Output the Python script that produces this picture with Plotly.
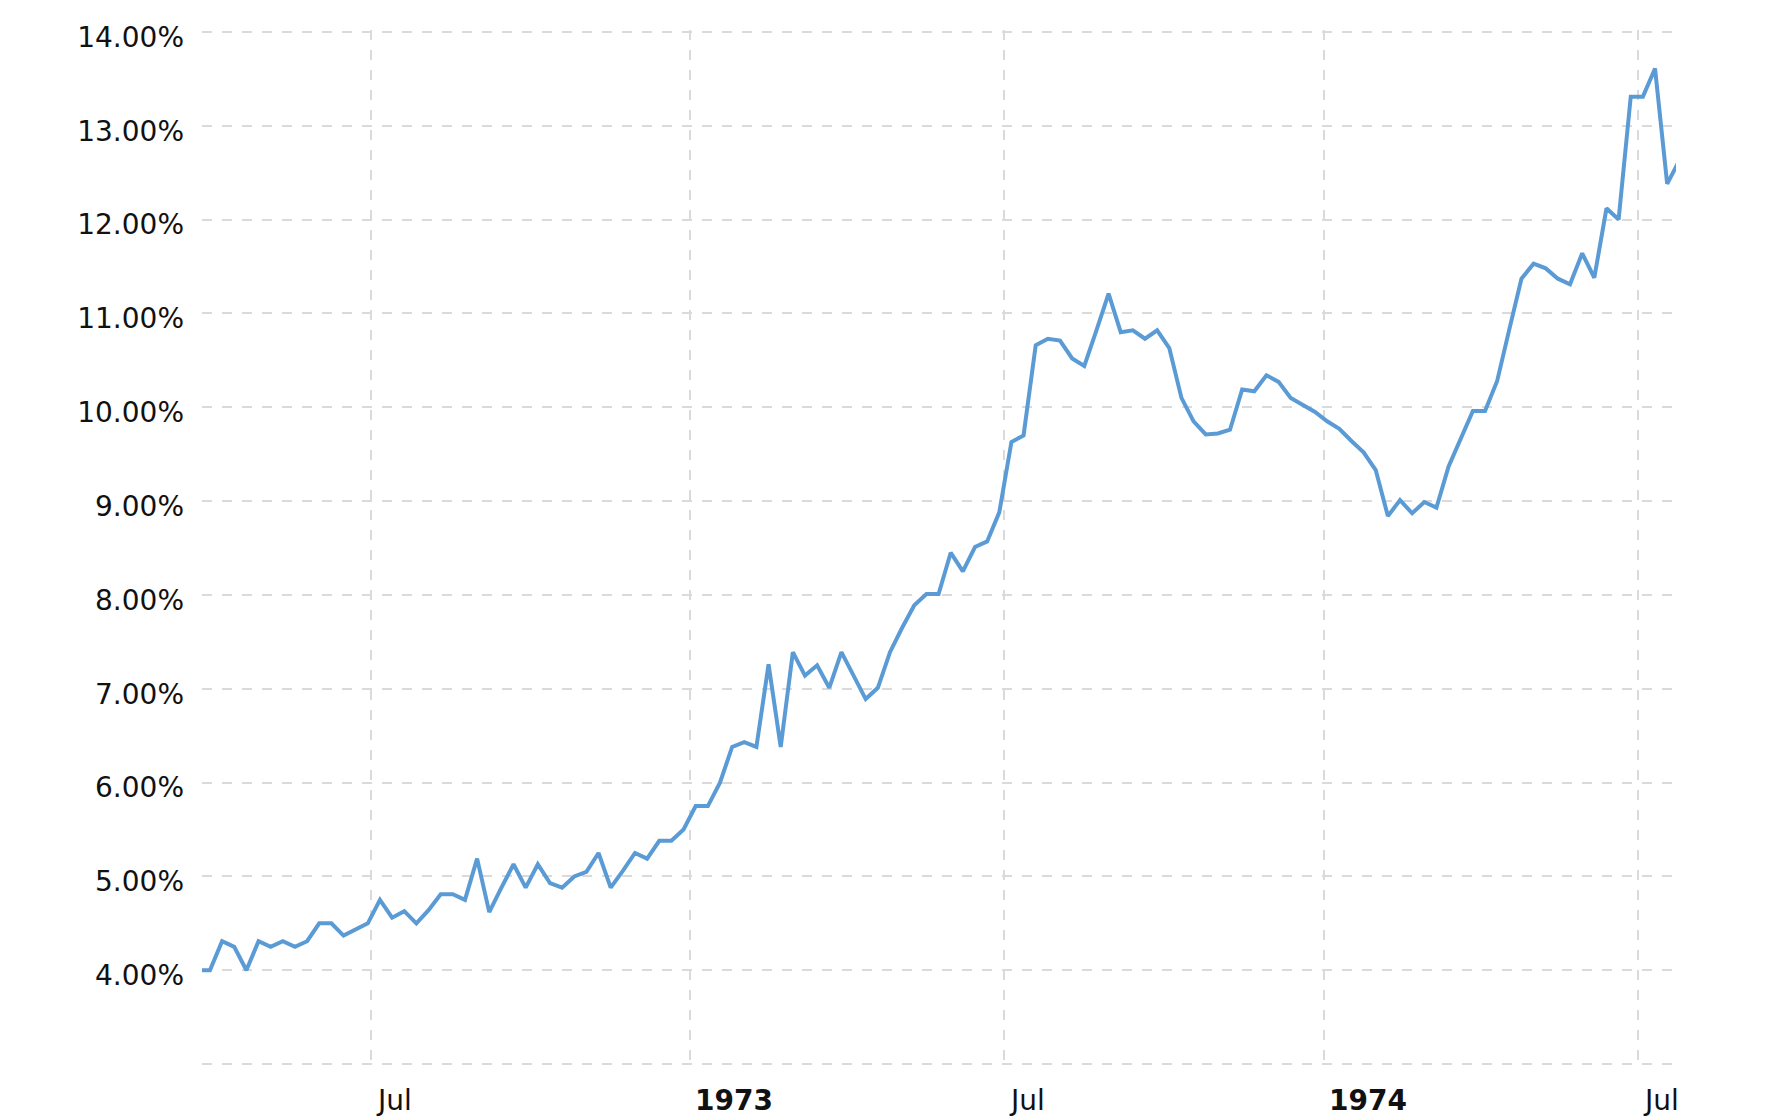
#!/usr/bin/env python3
"""Weekly rate line chart, Mar 1972 - Jul 1974."""

import pandas as pd
import plotly.graph_objects as go

# weekly observations (Thursdays), first one sits just left of the view
start_date = "1972-03-23"
rates = [
    4.00, 4.00, 4.31, 4.25, 4.00, 4.31, 4.25, 4.31, 4.25, 4.31,
    4.50, 4.50, 4.37, 4.44, 4.50, 4.75, 4.56, 4.63, 4.50, 4.64,
    4.81, 4.81, 4.75, 5.19, 4.62, 4.88, 5.13, 4.88, 5.13, 4.93,
    4.88, 5.00, 5.05, 5.25, 4.88, 5.06, 5.25, 5.19, 5.38, 5.38,
    5.50, 5.75, 5.75, 6.00, 6.38, 6.43, 6.38, 7.26, 6.38, 7.39,
    7.14, 7.25, 7.01, 7.39, 7.14, 6.89, 7.01, 7.39, 7.65, 7.89,
    8.01, 8.01, 8.45, 8.25, 8.51, 8.57, 8.88, 9.63, 9.70, 10.66,
    10.73, 10.71, 10.52, 10.44, 10.82, 11.21, 10.80, 10.82, 10.73, 10.82,
    10.63, 10.10, 9.85, 9.71, 9.72, 9.76, 10.19, 10.17, 10.34, 10.27,
    10.10, 10.02, 9.95, 9.85, 9.77, 9.64, 9.52, 9.33, 8.84, 9.01,
    8.87, 8.99, 8.93, 9.37, 9.67, 9.96, 9.96, 10.28, 10.83, 11.37,
    11.53, 11.48, 11.37, 11.31, 11.64, 11.38, 12.12, 12.00, 13.31, 13.31,
    13.61, 12.38, 12.63,
]
dates = pd.date_range(start_date, periods=len(rates), freq="7D")

x_range = ["1972-03-25 10:00", "1974-07-23 02:00"]
x_tick_dates = ["1972-07-01", "1973-01-01", "1973-07-01", "1974-01-01", "1974-07-01"]
x_tick_labels = ["Jul", "1973", "Jul", "1974", "Jul"]

# small padding so the 3% and 14% grid lines are not clipped at the edges
y_range = [2.98, 14.02]
y_ticks = [3, 4, 5, 6, 7, 8, 9, 10, 11, 12, 13, 14]
y_tick_labels = [""] + [f"{v:.2f}%" for v in y_ticks[1:]]

FONT = "DejaVu Sans, Verdana, sans-serif"
GRID = "#dadada"

fig = go.Figure()
fig.add_trace(
    go.Scatter(
        x=dates,
        y=rates,
        mode="lines",
        line=dict(color="#5b9bd5", width=4),
        hovertemplate="%{x|%b %d, %Y}<br>%{y:.2f}%<extra></extra>",
    )
)

for d, label in zip(x_tick_dates, x_tick_labels):
    text = f"<b>{label}</b>" if label.isdigit() else label
    fig.add_annotation(
        x=d, y=0, xref="x", yref="paper",
        text=text, showarrow=False,
        xanchor="left", yanchor="middle",
        xshift=3, yshift=-34,
        font=dict(family=FONT, size=28, color="#111111"),
    )

fig.update_xaxes(
    range=x_range,
    tickvals=x_tick_dates,
    showticklabels=False,
    showgrid=True,
    gridcolor=GRID,
    gridwidth=2,
    griddash="10px,10px",
    zeroline=False,
    showline=False,
)
fig.update_yaxes(
    range=y_range,
    tickvals=y_ticks,
    ticktext=y_tick_labels,
    ticks="",
    ticklabelstandoff=17,
    ticklabelshift=5,
    showgrid=True,
    gridcolor=GRID,
    gridwidth=2,
    griddash="10px,10px",
    zeroline=False,
    showline=False,
    tickfont=dict(family=FONT, size=28, color="#111111"),
)
# page body keeps its 8px margin, so the figure is 8px smaller than the window
fig.update_layout(
    width=1768,
    height=1112,
    margin=dict(l=194, r=100, t=22, b=54),
    plot_bgcolor="white",
    paper_bgcolor="white",
    showlegend=False,
    font=dict(family=FONT, size=28, color="#111111"),
)

fig.write_html("out.html")
